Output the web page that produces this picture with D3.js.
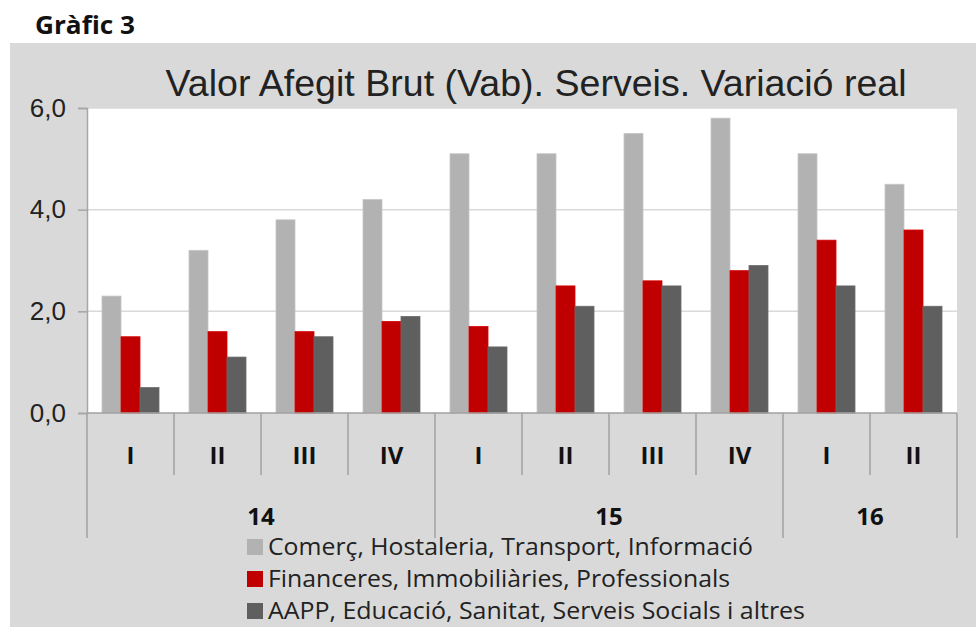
<!DOCTYPE html>
<html>
<head>
<meta charset="utf-8">
<script src="https://cdn.jsdelivr.net/npm/d3@7"></script>
<style>
  body { margin: 0; background: #fff; }
</style>
</head>
<body>
<div id="chart"></div>
<script>
// dades llegides del gràfic
const quarters = ["I", "II", "III", "IV", "I", "II", "III", "IV", "I", "II"];
const years = [{ label: "14", from: 0, to: 4 }, { label: "15", from: 4, to: 8 }, { label: "16", from: 8, to: 10 }];
const seriesNames = [
    "Comerç, Hostaleria, Transport, Informació",
    "Financeres, Immobiliàries, Professionals",
    "AAPP, Educació, Sanitat, Serveis Socials i altres"
];
const comerc = [2.3, 3.2, 3.8, 4.2, 5.1, 5.1, 5.5, 5.8, 5.1, 4.5];
const financeres = [1.5, 1.6, 1.6, 1.8, 1.7, 2.5, 2.6, 2.8, 3.4, 3.6];
const aapp = [0.5, 1.1, 1.5, 1.9, 1.3, 2.1, 2.5, 2.9, 2.5, 2.1];
const yTicks = [0, 2, 4, 6];
const colors = ["#b2b2b2", "#c00000", "#5f5f5f"];

const W = 976, H = 627;
const plot = { left: 87, right: 957, top: 108, bottom: 413 };

const svg = d3.select("#chart").append("svg").attr("width", W).attr("height", H);

svg.append("text").attr("x", 35).attr("y", 34)
    .style("font", "bold 25px 'Open Sans', sans-serif").attr("fill", "#111")
    .attr("textLength", 100).attr("lengthAdjust", "spacingAndGlyphs").text("Gràfic 3");

svg.append("rect").attr("x", 10).attr("y", 43).attr("width", W - 10).attr("height", H - 43).attr("fill", "#d9d9d9");
svg.append("rect").attr("x", plot.left).attr("y", plot.top)
    .attr("width", plot.right - plot.left).attr("height", plot.bottom - plot.top).attr("fill", "#fff");

svg.append("text").attr("x", 536).attr("y", 96).attr("text-anchor", "middle")
    .style("font", "36px 'Liberation Sans', Arial, sans-serif").attr("fill", "#222")
    .attr("textLength", 741).attr("lengthAdjust", "spacingAndGlyphs")
    .text("Valor Afegit Brut (Vab). Serveis. Variació real");

const x = d3.scaleBand().domain(d3.range(quarters.length)).range([plot.left, plot.right]);
const inner = d3.scaleBand().domain([0, 1, 2]).range([0, x.bandwidth()]).paddingOuter(0.79).paddingInner(0);
const y = d3.scaleLinear().domain([0, 6]).range([plot.bottom, plot.top]);

// grid
svg.append("g").selectAll("line").data(yTicks.filter(d => d > 0)).join("line")
    .attr("x1", plot.left).attr("x2", plot.right).attr("y1", d => y(d)).attr("y2", d => y(d))
    .attr("stroke", "#d9d9d9").attr("stroke-width", 1.5);

// y axis
const yAxis = svg.append("g").attr("transform", `translate(${plot.left},0)`)
    .call(d3.axisLeft(y).tickValues(yTicks).tickSize(9).tickPadding(12).tickFormat(d => d3.format(".1f")(d).replace(".", ",")));
yAxis.select(".domain").attr("stroke", "#a6a6a6").attr("stroke-width", 1.5);
yAxis.selectAll(".tick line").attr("stroke", "#a6a6a6").attr("stroke-width", 1.5);
yAxis.selectAll(".tick text").style("font", "26px 'Liberation Sans', Arial, sans-serif").attr("fill", "#222");

// bars
const allSeries = [comerc, financeres, aapp];
allSeries.forEach((vals, s) => {
    svg.append("g").selectAll("rect").data(vals).join("rect")
        .attr("x", (d, i) => x(i) + inner(s))
        .attr("width", inner.bandwidth())
        .attr("y", d => y(d))
        .attr("height", d => y(0) - y(d))
        .attr("fill", colors[s])
        .attr("stroke", d3.color(colors[s]).brighter(0.3)).attr("stroke-width", 0.8);
});

// category axis
const axisColor = "#a0a0a0";
const cat = svg.append("g");
cat.append("line").attr("x1", plot.left).attr("x2", plot.right).attr("y1", plot.bottom).attr("y2", plot.bottom)
    .attr("stroke", axisColor).attr("stroke-width", 1.5);
const yearEdges = [0].concat(years.map(d => d.to));
cat.selectAll(".qdiv").data(d3.range(1, quarters.length).filter(i => !yearEdges.includes(i))).join("line")
    .attr("x1", i => x(i)).attr("x2", i => x(i)).attr("y1", plot.bottom).attr("y2", 475)
    .attr("stroke", axisColor).attr("stroke-width", 1.5);
cat.selectAll(".ydiv").data(yearEdges).join("line")
    .attr("x1", i => i < quarters.length ? x(i) : plot.right).attr("x2", i => i < quarters.length ? x(i) : plot.right)
    .attr("y1", plot.bottom).attr("y2", 538)
    .attr("stroke", axisColor).attr("stroke-width", 1.5);
cat.selectAll(".qlab").data(quarters).join("text")
    .attr("x", (d, i) => x(i) + x.bandwidth() / 2).attr("y", 464).attr("text-anchor", "middle")
    .style("font", "bold 24px 'Open Sans', sans-serif").attr("fill", "#111").text(d => d);
cat.selectAll(".ylab").data(years).join("text")
    .attr("x", d => (x(d.from) + (d.to < quarters.length ? x(d.to) : plot.right)) / 2).attr("y", 525).attr("text-anchor", "middle")
    .style("font", "bold 24px 'Open Sans', sans-serif").attr("fill", "#111").text(d => d.label);

// legend
const leg = svg.append("g").attr("transform", "translate(247,547)");
seriesNames.forEach((name, i) => {
    const row = leg.append("g").attr("transform", `translate(0,${i * 32})`);
    row.append("rect").attr("x", 0).attr("y", -8).attr("width", 16).attr("height", 16).attr("fill", colors[i]);
    row.append("text").attr("x", 21).attr("y", 8)
        .style("font", "23px 'Open Sans', sans-serif").attr("fill", "#222")
        .attr("textLength", [485, 462, 537][i]).attr("lengthAdjust", "spacingAndGlyphs").text(name);
});
</script>
</body>
</html>
